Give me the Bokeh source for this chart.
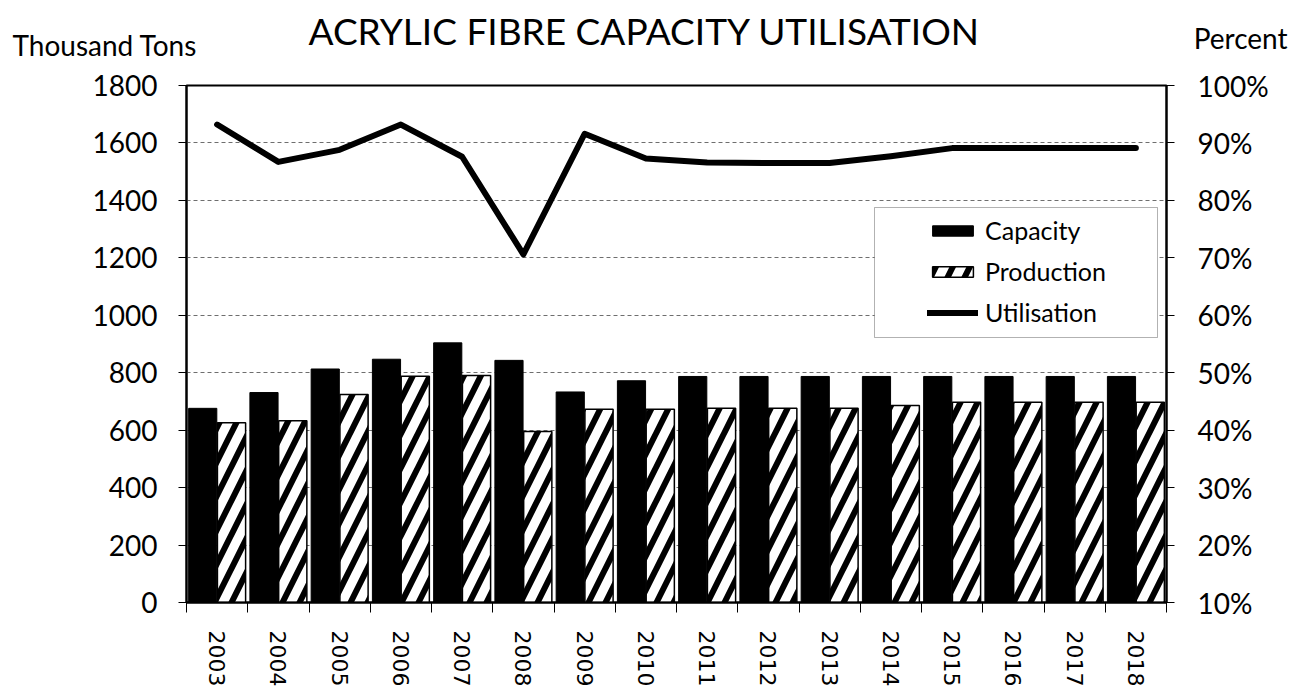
from bokeh.plotting import figure
from bokeh.layouts import column
from bokeh.core.properties import value
from bokeh.models import (ColumnDataSource, Range1d, LinearAxis,
                          FixedTicker, PrintfTickFormatter, Legend, LegendItem,
                          BoxAnnotation)
from bokeh.transform import dodge
from bokeh.embed import file_html
from bokeh.resources import INLINE

# ---- data -------------------------------------------------------------
years = ["2003", "2004", "2005", "2006", "2007", "2008", "2009", "2010",
         "2011", "2012", "2013", "2014", "2015", "2016", "2017", "2018"]
capacity = [676, 731, 813, 847, 904, 843, 733, 772,
            787, 787, 787, 787, 787, 787, 787, 787]          # thousand tons
production = [626, 633, 724, 788, 790, 595, 673, 673,
              676, 676, 676, 686, 697, 697, 697, 697]        # thousand tons
utilisation = [93.2, 86.7, 88.8, 93.2, 87.6, 70.6, 91.6, 87.3,
               86.6, 86.5, 86.5, 87.7, 89.1, 89.1, 89.1, 89.1]  # percent
tons_ticks = [0, 200, 400, 600, 800, 1000, 1200, 1400, 1600, 1800]
pct_ticks = [10, 20, 30, 40, 50, 60, 70, 80, 90, 100]

FONT = "Lato"
W = 1292
HEAD_H = 60

# ---- header strip: chart title and the two axis captions --------------
head = figure(width=W, height=HEAD_H, x_range=Range1d(0, W),
              y_range=Range1d(0, HEAD_H), title=None,
              x_axis_location=None, y_axis_location=None,
              output_backend="svg", toolbar_location=None, min_border=0)
head.frame_align = False
head.outline_line_color = None
head.grid.visible = False
head.background_fill_color = "white"
head.border_fill_color = "white"
head.text(x=[644], y=[HEAD_H - 30], text=["ACRYLIC FIBRE CAPACITY UTILISATION"],
          text_align="center", text_baseline="alphabetic",
          text_font=value(FONT), text_font_size="37px", text_color="black")
head.text(x=[12], y=[HEAD_H - 44], text=["Thousand Tons"],
          text_align="left", text_baseline="alphabetic",
          text_font=value(FONT), text_font_size="28px", text_color="black")
head.text(x=[1287], y=[HEAD_H - 37], text=["Percent"],
          text_align="right", text_baseline="alphabetic",
          text_font=value(FONT), text_font_size="28px", text_color="black")

# ---- main chart -------------------------------------------------------
pos = list(range(len(years)))   # one slot per year on a numeric x scale
src = ColumnDataSource(dict(pos=pos, year=years, capacity=capacity,
                            production=production, util=utilisation))

p = figure(width=W, height=699 - HEAD_H,
           x_range=Range1d(-0.5, len(years) - 0.5), y_range=Range1d(0, 1800),
           x_axis_location=None, output_backend="svg", toolbar_location=None,
           min_border_left=186, min_border_right=126,
           min_border_top=85 - HEAD_H, min_border_bottom=97)
p.frame_align = False
p.background_fill_color = "white"
p.border_fill_color = "white"
p.outline_line_color = "black"
p.outline_line_width = 2

p.extra_y_ranges = {"pct": Range1d(10, 100)}

yax = p.yaxis[0]
yax.ticker = FixedTicker(ticks=tons_ticks)
yax.axis_line_width = 2
yax.axis_line_color = "black"
yax.major_tick_in = 0
yax.major_tick_out = 8
yax.major_tick_line_color = "black"
yax.minor_tick_line_color = None
yax.major_label_standoff = 21
yax.major_label_text_font = FONT
yax.major_label_text_font_size = "28px"
yax.major_label_text_color = "black"

rax = LinearAxis(y_range_name="pct", ticker=FixedTicker(ticks=pct_ticks),
                 formatter=PrintfTickFormatter(format="%d%%"))
rax.axis_line_width = 2
rax.axis_line_color = "black"
rax.major_tick_in = 0
rax.major_tick_out = 8
rax.major_tick_line_color = "black"
rax.minor_tick_line_color = None
rax.major_label_standoff = 23
rax.major_label_text_font = FONT
rax.major_label_text_font_size = "28px"
rax.major_label_text_color = "black"
p.add_layout(rax, "right")

# year labels at slot centres, tick marks on the slot boundaries
bounds = [i - 0.5 for i in range(len(years) + 1)]
xax = LinearAxis(ticker=FixedTicker(ticks=pos, minor_ticks=bounds))
xax.major_label_overrides = {i: y for i, y in zip(pos, years)}
xax.major_label_orientation = "vertical"
xax.axis_line_width = 2
xax.axis_line_color = "black"
xax.major_tick_line_color = None
xax.major_tick_in = 0
xax.major_tick_out = 0
xax.minor_tick_in = 0
xax.minor_tick_out = 10
xax.minor_tick_line_color = "black"
xax.major_label_standoff = 18
xax.major_label_text_font = "DejaVu Sans"
xax.major_label_text_font_size = "22px"
xax.major_label_text_color = "black"
p.add_layout(xax, "below")

p.xgrid.visible = False
p.ygrid.ticker = FixedTicker(ticks=tons_ticks)
p.ygrid.grid_line_color = "#6e6e6e"
p.ygrid.grid_line_dash = "4 3"
p.ygrid.grid_line_width = 1

cap_r = p.vbar(x=dodge("pos", -0.235), top="capacity",
               width=0.46, source=src, fill_color="black",
               line_color="black", line_width=1)
prod_r = p.vbar(x=dodge("pos", 0.235), top="production",
                width=0.46, source=src, fill_color="white",
                line_color="black", line_width=1.5,
                hatch_pattern="/", hatch_color="black",
                hatch_scale=34, hatch_weight=6)
util_r = p.line(x="pos", y="util", source=src, y_range_name="pct",
                line_color="black", line_width=6,
                line_cap="round", line_join="round")

# legend frame drawn separately so the entries can sit centred inside it
legend_box = BoxAnnotation(left=688, right=971, bottom=265, top=395,
                           left_units="screen", right_units="screen",
                           bottom_units="screen", top_units="screen",
                           fill_color="white", fill_alpha=1,
                           line_color="black", line_width=1)
p.add_layout(legend_box)

legend = Legend(items=[LegendItem(label="Capacity", renderers=[cap_r]),
                       LegendItem(label="Production", renderers=[prod_r]),
                       LegendItem(label="Utilisation", renderers=[util_r])],
                location=(741, 275), orientation="vertical",
                glyph_width=51, glyph_height=13, label_standoff=7,
                spacing=11, padding=0, margin=0, label_height=30,
                border_line_color=None, background_fill_alpha=0,
                label_text_font=FONT, label_text_font_size="25px",
                label_text_color="black")
p.add_layout(legend)

page = column(head, p, spacing=0)
open("out.html", "w").write(file_html(page, INLINE))
